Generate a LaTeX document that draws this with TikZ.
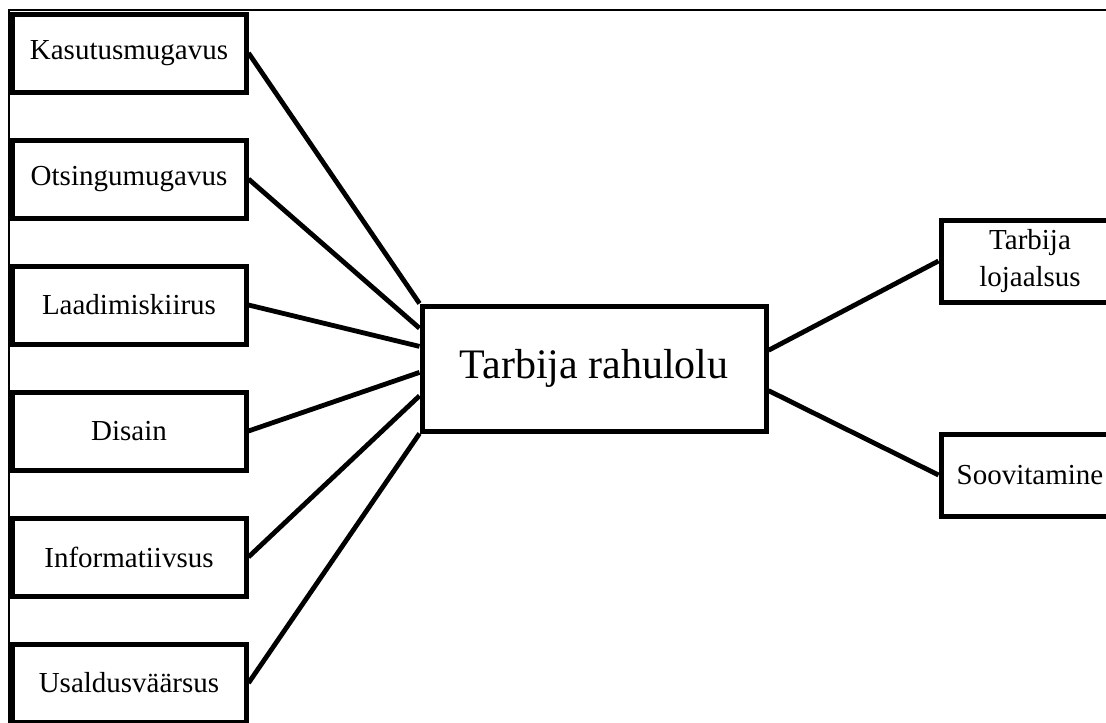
\documentclass[tikz,border=0pt]{standalone}
\usepackage{fontspec}
\setmainfont{Liberation Serif}
\usetikzlibrary{calc}
\tikzset{
	tegur/.style={draw, line width=5pt, minimum width=234pt, minimum height=78pt, inner sep=0pt, font=\fontsize{29}{37}\selectfont},
	tulem/.style={draw, line width=5pt, minimum width=178pt, minimum height=82pt, inner sep=0pt, align=center, font=\fontsize{29}{37}\selectfont},
	seos/.style={line width=4.8pt}
}
\begin{document}
\begin{tikzpicture}[x=1pt,y=-1pt]
			\useasboundingbox (0,0) rectangle (1106,723);
			\clip (0,0) rectangle (1106,723);
			\draw[line width=1.5pt] (9,10) rectangle (1200,800);
			\node[tegur] (kasutus) at (129,53) {Kasutusmugavus};
			\node[tegur] (otsing) at (129,179) {Otsingumugavus};
			\node[tegur] (laadimine) at (129,305) {Laadimiskiirus};
			\node[tegur] (disain) at (129,431) {Disain};
			\node[tegur] (info) at (129,557) {Informatiivsus};
			\node[tegur] (usaldus) at (129,683) {Usaldusväärsus};
			\node[draw, line width=5pt, minimum width=344pt, minimum height=125pt, inner sep=0pt, font=\fontsize{42}{50}\selectfont] (rahulolu) at (594,368.5) {Tarbija rahulolu};
			\node[tulem] (lojaalsus) at (1030,261) {Tarbija\\lojaalsus};
			\node[tulem] (soovitus) at (1030,475) {Soovitamine};
			\draw[seos] (kasutus.east) -- (rahulolu.north west);
			\draw[seos] (otsing.east) -- ($(rahulolu.north west)!0.19!(rahulolu.south west)$);
			\draw[seos] (laadimine.east) -- ($(rahulolu.north west)!0.33!(rahulolu.south west)$);
			\draw[seos] (disain.east) -- ($(rahulolu.north west)!0.53!(rahulolu.south west)$);
			\draw[seos] (info.east) -- ($(rahulolu.north west)!0.71!(rahulolu.south west)$);
			\draw[seos] (usaldus.east) -- (rahulolu.south west);
			\draw[seos] ($(rahulolu.north east)!0.36!(rahulolu.south east)$) -- (lojaalsus.west);
			\draw[seos] ($(rahulolu.north east)!0.67!(rahulolu.south east)$) -- (soovitus.west);
		\end{tikzpicture}
\end{document}
